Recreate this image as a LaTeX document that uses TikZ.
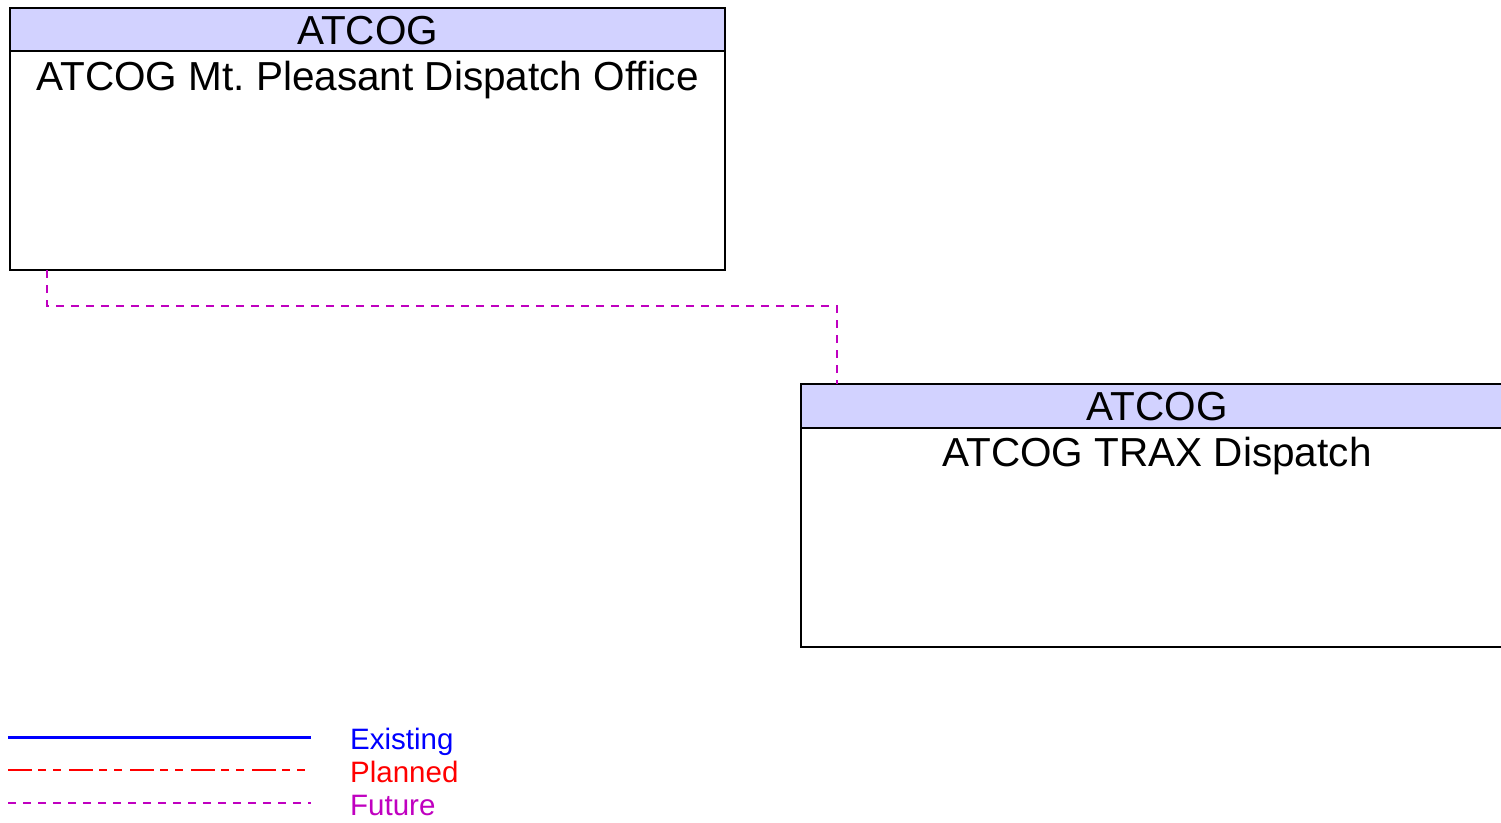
\documentclass[tikz,border=0pt]{standalone}
\usepackage{fontspec}
\setmainfont{Liberation Sans}
\frenchspacing
\definecolor{hdr}{RGB}{210,210,255}
\definecolor{fut}{RGB}{192,0,192}
\definecolor{pln}{RGB}{255,0,0}
\definecolor{exi}{RGB}{0,0,255}
\tikzset{
  hdrbox/.style={draw=black, fill=hdr, line width=1.3pt, minimum width=715pt, minimum height=43pt, inner sep=0pt, outer sep=0pt},
  bodybox/.style={draw=black, fill=white, line width=1.3pt, minimum width=715pt, minimum height=219pt, inner sep=0pt, outer sep=0pt},
  bigtext/.style={font=\fontsize{40.5}{48}\selectfont, inner sep=0pt, anchor=base},
  legtext/.style={font=\fontsize{29.5}{34}\selectfont, inner sep=0pt, anchor=base west},
  futureline/.style={draw=fut, line width=1.3pt, dash pattern=on 8pt off 7pt},
  plannedline/.style={draw=pln, line width=1.3pt, dash pattern=on 24pt off 6pt on 8pt off 7pt on 8pt off 8pt},
  existingline/.style={draw=exi, line width=3pt}
}
\begin{document}
\begin{tikzpicture}[x=1pt,y=-1pt]
\useasboundingbox (0,0) rectangle (1501,822);
\fill[white] (0,0) rectangle (1501,822);
% box 1
\node[bodybox, anchor=north west] (b1) at (10,51) {};
\node[hdrbox, anchor=north west] (h1) at (10,8) {};
\node[bigtext] (h1t) at (367.5,44) {ATCOG};
\node[bigtext] (b1t) at (367.5,90) {ATCOG Mt. Pleasant Dispatch Office};
% box 2
\node[bodybox, anchor=north west, minimum width=712pt] (b2) at (801,428) {};
\node[hdrbox, anchor=north west, minimum width=712pt, minimum height=44pt] (h2) at (801,384) {};
\node[bigtext] (h2t) at (1157,420) {ATCOG};
\node[bigtext] (b2t) at (1157,466) {ATCOG TRAX Dispatch};
% connector
\coordinate (c1) at ([xshift=37pt]b1.south west);
\coordinate (c2) at ([xshift=36pt]h2.north west);
\coordinate (cm) at (47,306);
\draw[futureline] (c1) -- (cm) -| (c2);
% legend
\coordinate (le1) at (8,737);
\coordinate (le2) at (311,737);
\coordinate (lp1) at (8,770);
\coordinate (lp2) at (311,770);
\coordinate (lf1) at (8,803);
\coordinate (lf2) at (311,803);
\draw[existingline] (le1) -- (le2);
\draw[plannedline] (lp1) -- (lp2);
\draw[futureline] (lf1) -- (lf2);
\node[legtext, text=exi] (lte) at (350,749.5) {Existing};
\node[legtext, text=pln] (ltp) at (350,782) {Planned};
\node[legtext, text=fut] (ltf) at (350,815) {Future};
\end{tikzpicture}
\end{document}
